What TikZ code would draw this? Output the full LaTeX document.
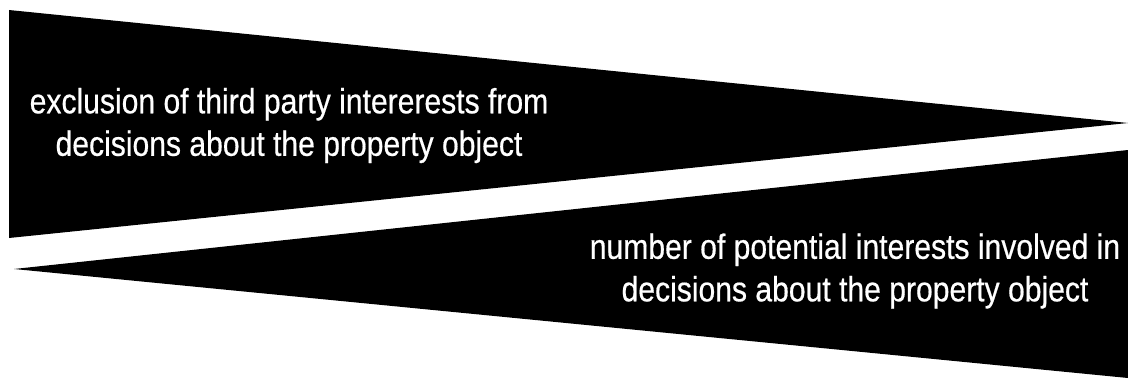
\documentclass[tikz,border=0pt]{standalone}
\usepackage{fontspec}
\setmainfont{Liberation Sans}[FakeStretch=0.86,FakeBold=0.5]
\usetikzlibrary{positioning}
\tikzset{
  wedge/.style={fill=black},
  label/.style={text=white, align=center, font=\fontsize{35}{42.5}\selectfont, inner sep=0pt}
}
\begin{document}
\begin{tikzpicture}[x=1pt,y=-1pt]
    \useasboundingbox (0,0) rectangle (1128,385);
    % upper wedge: wide at the left
    \coordinate (UA) at (9,10);
    \coordinate (UB) at (9,238);
    \coordinate (UT) at (1128,123);
    \fill[wedge] (UA)--(UT)--(UB)--cycle;
    % lower wedge: wide at the right
    \coordinate (LT) at (14,269);
    \coordinate (LA) at (1128,150);
    \coordinate (LB) at (1128,378);
    \fill[wedge] (LT)--(LA)--(LB)--cycle;

    \node[label] (excl) at (289,125.5) {exclusion of third party intererests from\\decisions about the property object};
    \node[label] (numb) at (855,271) {number of potential interests involved in\\decisions about the property object};
\end{tikzpicture}
\end{document}
